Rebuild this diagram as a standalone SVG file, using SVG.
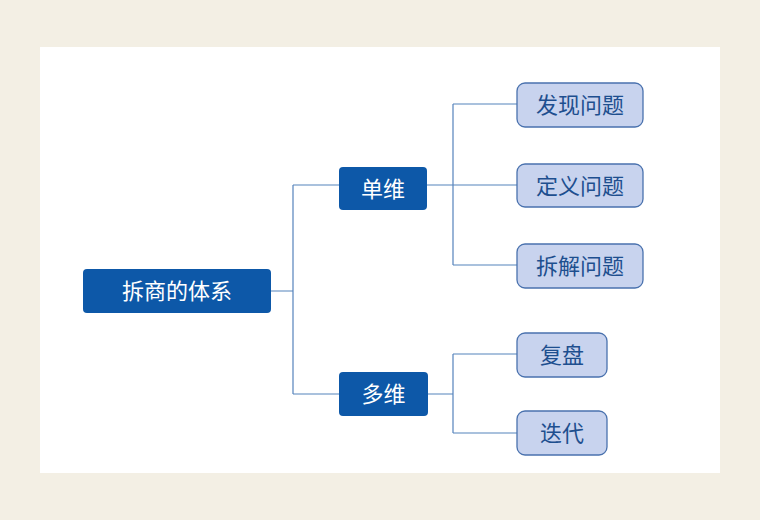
<svg xmlns="http://www.w3.org/2000/svg" width="760" height="520" viewBox="0 0 760 520">
<style>
.dark rect{fill:#0D58A8;}
.dark text{fill:#FFFFFF;}
.light rect{fill:#C8D3EE;stroke:#4A72AE;stroke-width:1.3;}
.light text{fill:#1E4F8F;}
text{font-family:"Noto Sans CJK SC","Noto Sans",sans-serif;font-size:22px;text-anchor:middle;dominant-baseline:central;}
#connectors path{fill:none;stroke:#5583BC;stroke-width:1.2;}
</style>
<rect x="0" y="0" width="760" height="520" fill="#F3EFE4"/>
<rect x="40" y="47" width="680" height="426" fill="#FFFFFF"/>
<g id="connectors">
<path d="M271 291H293M293 185V394M293 185H339M293 394H339"/>
<path d="M427 185H453M453 104V265M453 104H517M453 185H517M453 265H517"/>
<path d="M428 394H453M453 354V433M453 354H517M453 433H517"/>
</g>
<g id="root" class="dark"><rect x="83" y="269" width="188" height="44" rx="4"/><text x="177" y="289">拆商的体系</text></g>
<g id="single" class="dark"><rect x="339" y="167" width="88" height="43" rx="4"/><text x="383" y="186.5">单维</text></g>
<g id="multi" class="dark"><rect x="339" y="372" width="89" height="44" rx="4"/><text x="383.5" y="392">多维</text></g>
<g id="discover" class="light"><rect x="517" y="83" width="126" height="44" rx="8"/><text x="580" y="103">发现问题</text></g>
<g id="define" class="light"><rect x="517" y="164" width="126" height="43" rx="8"/><text x="580" y="183.5">定义问题</text></g>
<g id="decompose" class="light"><rect x="517" y="244" width="126" height="44" rx="8"/><text x="580" y="264">拆解问题</text></g>
<g id="review" class="light"><rect x="517" y="333" width="90" height="44" rx="8"/><text x="562" y="353">复盘</text></g>
<g id="iterate" class="light"><rect x="517" y="411" width="90" height="44" rx="8"/><text x="562" y="431">迭代</text></g>
</svg>
